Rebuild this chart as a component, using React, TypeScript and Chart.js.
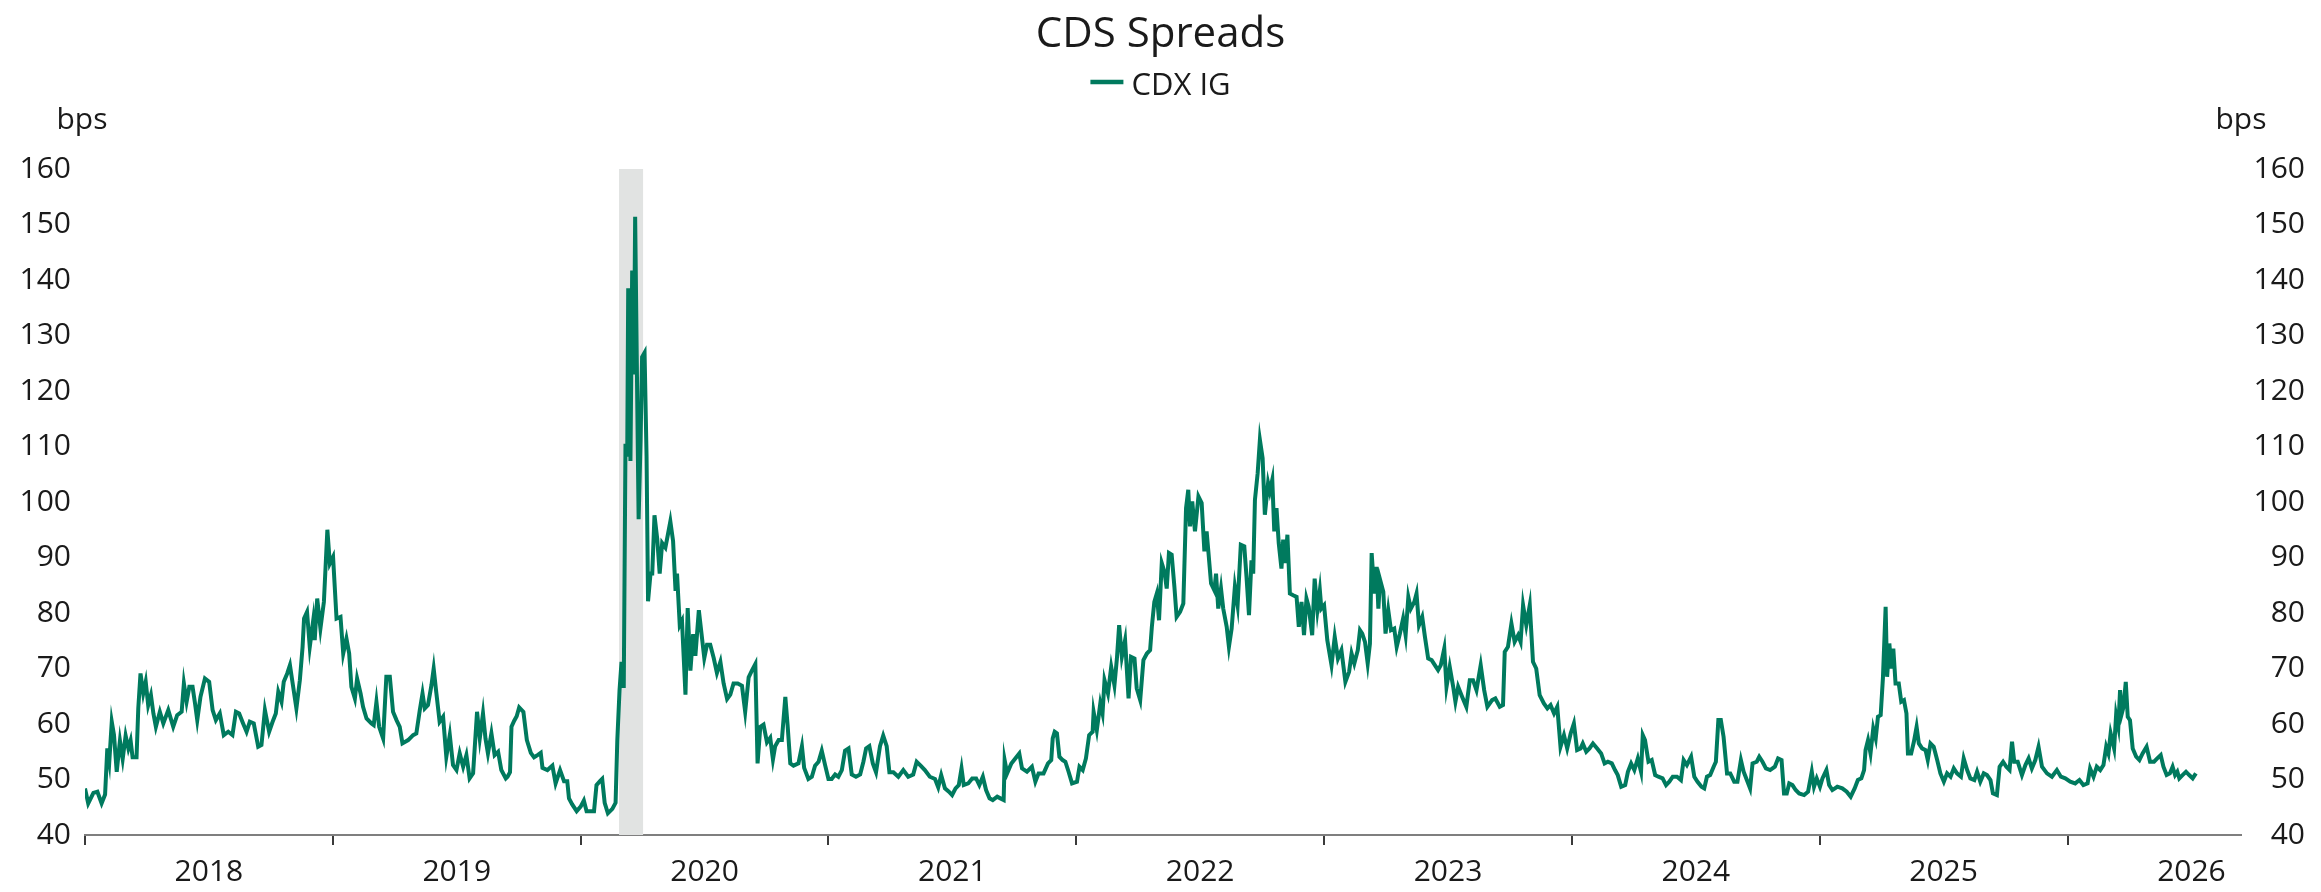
import { useEffect, useRef } from 'react';
import { Chart, registerables } from 'chart.js';

Chart.register(...registerables);

// Observation dates as decimal years, and CDX IG spread (bps) on each date.
const obsYear = [
  2018.000, 2018.013, 2018.034, 2018.050, 2018.067, 2018.081, 2018.090, 2018.098, 2018.108, 2018.117, 2018.128, 2018.141, 2018.152, 2018.164, 2018.175, 2018.184, 2018.192, 2018.208, 2018.215, 2018.224, 2018.235, 2018.245, 2018.255, 2018.266, 2018.276, 2018.286, 2018.302, 2018.316, 2018.336, 2018.356, 2018.372, 2018.390, 2018.399, 2018.410, 2018.421, 2018.434, 2018.444, 2018.453, 2018.466, 2018.484, 2018.501, 2018.515, 2018.528, 2018.544, 2018.560, 2018.578, 2018.595, 2018.609, 2018.622, 2018.638, 2018.652, 2018.665, 2018.681, 2018.699, 2018.712, 2018.726, 2018.743, 2018.757, 2018.770, 2018.780, 2018.793, 2018.802, 2018.816, 2018.827, 2018.840, 2018.853, 2018.867, 2018.878, 2018.884, 2018.896, 2018.907, 2018.921, 2018.927, 2018.937, 2018.950, 2018.964, 2018.978, 2018.988,
  2019.001, 2019.015, 2019.031, 2019.042, 2019.055, 2019.066, 2019.075, 2019.089, 2019.098, 2019.112, 2019.122, 2019.136, 2019.156, 2019.165, 2019.176, 2019.187, 2019.203, 2019.216, 2019.230, 2019.243, 2019.257, 2019.270, 2019.281, 2019.304, 2019.324, 2019.337, 2019.351, 2019.362, 2019.371, 2019.384, 2019.398, 2019.407, 2019.418, 2019.431, 2019.445, 2019.458, 2019.472, 2019.485, 2019.499, 2019.512, 2019.526, 2019.539, 2019.552, 2019.566, 2019.582, 2019.593, 2019.606, 2019.616, 2019.626, 2019.640, 2019.653, 2019.667, 2019.680, 2019.698, 2019.705, 2019.715, 2019.721, 2019.732, 2019.742, 2019.752, 2019.769, 2019.783, 2019.799, 2019.812, 2019.826, 2019.839, 2019.846, 2019.866, 2019.886, 2019.899, 2019.917, 2019.933, 2019.946, 2019.953, 2019.966, 2019.984,
  2020.000, 2020.013, 2020.024, 2020.040, 2020.054, 2020.064, 2020.078, 2020.087, 2020.097, 2020.110, 2020.128, 2020.141, 2020.148, 2020.157, 2020.165, 2020.174, 2020.181, 2020.188, 2020.192, 2020.201, 2020.208, 2020.215, 2020.220, 2020.228, 2020.234, 2020.242, 2020.248, 2020.258, 2020.266, 2020.272, 2020.282, 2020.289, 2020.298, 2020.309, 2020.319, 2020.329, 2020.342, 2020.352, 2020.362, 2020.373, 2020.383, 2020.389, 2020.400, 2020.409, 2020.423, 2020.432, 2020.443, 2020.454, 2020.463, 2020.477, 2020.490, 2020.499, 2020.510, 2020.523, 2020.537, 2020.550, 2020.564, 2020.577, 2020.591, 2020.604, 2020.617, 2020.634, 2020.651, 2020.664, 2020.678, 2020.691, 2020.705, 2020.714, 2020.725, 2020.738, 2020.752, 2020.765, 2020.776, 2020.785, 2020.799, 2020.812, 2020.826, 2020.835, 2020.846, 2020.859, 2020.879, 2020.893, 2020.902, 2020.919, 2020.933, 2020.946, 2020.960, 2020.973, 2020.987,
  2021.000, 2021.013, 2021.027, 2021.040, 2021.054, 2021.067, 2021.081, 2021.094, 2021.111, 2021.128, 2021.141, 2021.152, 2021.165, 2021.179, 2021.192, 2021.208, 2021.221, 2021.235, 2021.246, 2021.262, 2021.282, 2021.302, 2021.322, 2021.342, 2021.356, 2021.372, 2021.389, 2021.409, 2021.430, 2021.443, 2021.455, 2021.470, 2021.486, 2021.499, 2021.513, 2021.526, 2021.537, 2021.546, 2021.564, 2021.580, 2021.596, 2021.609, 2021.623, 2021.636, 2021.650, 2021.663, 2021.681, 2021.694, 2021.707, 2021.711, 2021.721, 2021.738, 2021.754, 2021.770, 2021.781, 2021.801, 2021.821, 2021.835, 2021.848, 2021.868, 2021.886, 2021.899, 2021.905, 2021.913, 2021.922, 2021.932, 2021.945, 2021.956, 2021.969, 2021.983,
  2022.003, 2022.013, 2022.026, 2022.039, 2022.052, 2022.066, 2022.070, 2022.083, 2022.097, 2022.106, 2022.114, 2022.128, 2022.141, 2022.154, 2022.164, 2022.173, 2022.184, 2022.197, 2022.211, 2022.221, 2022.235, 2022.244, 2022.258, 2022.271, 2022.285, 2022.298, 2022.305, 2022.315, 2022.325, 2022.334, 2022.345, 2022.356, 2022.365, 2022.374, 2022.385, 2022.396, 2022.405, 2022.419, 2022.432, 2022.443, 2022.452, 2022.459, 2022.468, 2022.479, 2022.493, 2022.506, 2022.517, 2022.526, 2022.533, 2022.544, 2022.557, 2022.564, 2022.573, 2022.584, 2022.593, 2022.607, 2022.616, 2022.627, 2022.640, 2022.651, 2022.664, 2022.678, 2022.687, 2022.697, 2022.707, 2022.714, 2022.721, 2022.732, 2022.741, 2022.752, 2022.761, 2022.774, 2022.781, 2022.791, 2022.799, 2022.808, 2022.817, 2022.828, 2022.835, 2022.844, 2022.852, 2022.862, 2022.875, 2022.889, 2022.898, 2022.909, 2022.919, 2022.929, 2022.938, 2022.952, 2022.962, 2022.973, 2022.983, 2022.989,
  2023.000, 2023.013, 2023.030, 2023.043, 2023.056, 2023.070, 2023.086, 2023.101, 2023.111, 2023.122, 2023.136, 2023.145, 2023.154, 2023.165, 2023.176, 2023.185, 2023.192, 2023.203, 2023.212, 2023.219, 2023.226, 2023.239, 2023.248, 2023.259, 2023.270, 2023.283, 2023.293, 2023.306, 2023.319, 2023.329, 2023.340, 2023.350, 2023.364, 2023.373, 2023.383, 2023.396, 2023.407, 2023.420, 2023.434, 2023.447, 2023.460, 2023.471, 2023.485, 2023.494, 2023.507, 2023.521, 2023.530, 2023.541, 2023.557, 2023.574, 2023.588, 2023.601, 2023.615, 2023.632, 2023.646, 2023.659, 2023.678, 2023.691, 2023.709, 2023.722, 2023.729, 2023.742, 2023.756, 2023.769, 2023.783, 2023.793, 2023.803, 2023.816, 2023.830, 2023.843, 2023.856, 2023.870, 2023.887, 2023.901, 2023.914, 2023.928, 2023.941, 2023.954, 2023.968, 2023.981, 2023.995,
  2024.008, 2024.021, 2024.035, 2024.044, 2024.058, 2024.071, 2024.085, 2024.102, 2024.118, 2024.132, 2024.145, 2024.161, 2024.174, 2024.185, 2024.199, 2024.215, 2024.226, 2024.239, 2024.252, 2024.266, 2024.279, 2024.286, 2024.295, 2024.309, 2024.322, 2024.336, 2024.349, 2024.366, 2024.380, 2024.393, 2024.407, 2024.424, 2024.440, 2024.451, 2024.464, 2024.481, 2024.494, 2024.507, 2024.523, 2024.534, 2024.545, 2024.558, 2024.572, 2024.581, 2024.591, 2024.601, 2024.612, 2024.626, 2024.639, 2024.655, 2024.668, 2024.682, 2024.693, 2024.706, 2024.719, 2024.729, 2024.746, 2024.756, 2024.769, 2024.783, 2024.800, 2024.819, 2024.832, 2024.846, 2024.856, 2024.867, 2024.877, 2024.890, 2024.903, 2024.917, 2024.937, 2024.953, 2024.968, 2024.977, 2024.988,
  2025.001, 2025.011, 2025.027, 2025.038, 2025.051, 2025.071, 2025.091, 2025.109, 2025.125, 2025.141, 2025.154, 2025.168, 2025.179, 2025.185, 2025.195, 2025.205, 2025.216, 2025.226, 2025.235, 2025.246, 2025.255, 2025.266, 2025.272, 2025.281, 2025.289, 2025.297, 2025.306, 2025.319, 2025.329, 2025.340, 2025.350, 2025.356, 2025.369, 2025.380, 2025.391, 2025.400, 2025.413, 2025.427, 2025.436, 2025.447, 2025.460, 2025.474, 2025.487, 2025.501, 2025.514, 2025.528, 2025.541, 2025.554, 2025.570, 2025.581, 2025.595, 2025.608, 2025.624, 2025.635, 2025.648, 2025.662, 2025.675, 2025.689, 2025.699, 2025.715, 2025.726, 2025.740, 2025.753, 2025.766, 2025.776, 2025.785, 2025.799, 2025.816, 2025.830, 2025.843, 2025.856, 2025.870, 2025.883, 2025.897, 2025.917, 2025.937, 2025.957, 2025.973, 2025.991,
  2026.011, 2026.031, 2026.048, 2026.064, 2026.081, 2026.091, 2026.105, 2026.118, 2026.132, 2026.145, 2026.156, 2026.165, 2026.174, 2026.188, 2026.196, 2026.205, 2026.212, 2026.219, 2026.226, 2026.235, 2026.243, 2026.252, 2026.263, 2026.277, 2026.290, 2026.303, 2026.319, 2026.333, 2026.349, 2026.362, 2026.376, 2026.387, 2026.400, 2026.413, 2026.424, 2026.434, 2026.443, 2026.451, 2026.464, 2026.478, 2026.491, 2026.505, 2026.518,
];

const cdxIG = [
  48.4, 45.7, 47.6, 47.8, 45.7, 47.3, 55.6, 53.2, 60.4, 58.0, 51.4, 57.0, 53.7, 57.9, 55.6, 57.0, 54.0, 54.0, 62.8, 69.1, 65.5, 67.6, 63.4, 65.2, 61.9, 59.5, 62.2, 60.1, 62.5, 59.5, 61.6, 62.2, 67.3, 64.0, 66.7, 66.7, 63.7, 60.7, 64.9, 68.2, 67.6, 62.5, 60.7, 61.9, 58.0, 58.6, 58.0, 62.2, 61.9, 60.1, 58.6, 60.4, 60.1, 55.9, 56.2, 62.5, 58.6, 60.4, 61.9, 65.8, 64.0, 67.6, 69.1, 70.6, 66.7, 62.8, 67.9, 73.9, 79.0, 80.2, 73.9, 78.7, 75.1, 82.6, 77.2, 82.0, 95.0, 88.9,
  90.1, 79.0, 79.3, 72.7, 75.4, 72.7, 66.7, 64.6, 68.2, 65.5, 63.1, 61.0, 60.1, 59.8, 64.0, 59.5, 57.4, 68.5, 68.5, 62.2, 60.7, 59.5, 56.5, 57.1, 58.0, 58.3, 62.5, 65.5, 62.8, 63.4, 67.0, 70.0, 65.5, 60.4, 61.3, 54.1, 58.0, 52.6, 51.7, 54.7, 52.3, 54.4, 50.2, 51.1, 62.2, 57.4, 61.9, 57.4, 54.7, 58.3, 54.4, 55.0, 51.7, 50.2, 50.5, 51.3, 59.5, 60.6, 61.4, 63.0, 62.2, 57.1, 54.8, 54.0, 54.4, 54.8, 52.1, 51.7, 52.5, 49.3, 51.7, 49.7, 49.7, 46.6, 45.5, 44.3,
  45.1, 46.2, 44.3, 44.3, 44.3, 49.0, 49.7, 50.1, 45.8, 43.9, 44.7, 45.8, 57.1, 66.1, 71.2, 66.5, 110.5, 108.2, 138.5, 107.4, 141.7, 123.0, 151.4, 119.9, 96.9, 111.3, 126.1, 126.9, 108.2, 82.1, 87.1, 87.1, 97.6, 93.4, 87.1, 92.6, 91.8, 94.1, 96.5, 93.0, 84.0, 87.1, 77.8, 78.6, 65.3, 80.9, 69.6, 76.2, 72.3, 80.5, 75.4, 71.9, 74.3, 74.3, 71.9, 69.2, 71.2, 67.3, 64.5, 65.3, 67.3, 67.3, 66.9, 62.2, 68.4, 69.6, 70.8, 52.9, 59.5, 59.9, 56.7, 57.5, 53.6, 56.0, 57.1, 57.1, 64.9, 59.9, 52.9, 52.5, 52.9, 56.0, 52.1, 50.1, 50.5, 52.5, 53.2, 55.2, 52.5,
  50.1, 50.1, 50.9, 50.5, 51.7, 55.2, 55.6, 50.9, 50.5, 50.9, 53.2, 55.6, 56.0, 52.9, 51.3, 56.0, 57.9, 56.0, 51.3, 51.3, 50.5, 51.7, 50.5, 50.9, 53.2, 52.5, 51.7, 50.5, 50.1, 48.6, 50.8, 48.4, 47.8, 47.2, 48.4, 49.0, 52.0, 49.0, 49.3, 50.2, 50.2, 49.0, 50.5, 48.1, 46.6, 46.3, 46.9, 46.6, 46.3, 53.5, 51.1, 52.9, 53.8, 54.7, 52.0, 51.4, 52.3, 49.6, 51.1, 51.1, 52.9, 53.5, 57.4, 58.6, 58.3, 54.1, 53.5, 53.2, 51.4, 49.3,
  49.6, 52.3, 51.7, 53.8, 58.0, 58.6, 62.2, 58.9, 63.7, 61.9, 67.9, 65.5, 70.3, 67.0, 71.8, 77.8, 72.1, 75.1, 64.6, 72.1, 71.8, 66.4, 64.3, 71.5, 72.7, 73.3, 77.5, 82.0, 83.5, 78.7, 89.0, 87.4, 84.4, 90.8, 90.5, 84.7, 79.3, 80.2, 81.7, 98.9, 102.2, 95.6, 100.1, 94.7, 101.0, 99.8, 91.1, 94.7, 91.1, 85.3, 84.1, 87.1, 80.8, 84.4, 80.8, 77.5, 73.9, 77.2, 84.7, 81.4, 92.3, 92.0, 86.5, 79.6, 89.5, 87.1, 100.4, 105.2, 111.2, 107.9, 97.7, 103.4, 101.9, 104.0, 94.7, 98.9, 92.6, 88.0, 93.2, 89.0, 94.1, 83.5, 83.2, 82.9, 77.5, 82.0, 76.0, 82.6, 81.1, 76.0, 86.2, 80.5, 84.1, 80.8,
  81.4, 75.1, 70.6, 75.7, 71.8, 73.3, 67.6, 69.4, 72.7, 70.9, 73.3, 76.9, 76.3, 74.8, 70.9, 74.5, 90.8, 83.5, 88.3, 80.8, 86.0, 83.8, 76.3, 80.5, 76.9, 77.2, 73.9, 76.3, 79.0, 76.0, 82.9, 80.8, 82.0, 83.5, 77.8, 79.3, 75.7, 71.8, 71.5, 70.6, 69.7, 70.6, 73.6, 66.7, 70.3, 66.7, 64.0, 66.7, 64.9, 63.1, 67.9, 67.9, 66.1, 70.6, 66.1, 63.1, 64.3, 64.6, 63.1, 63.4, 73.0, 73.9, 78.1, 74.8, 76.0, 74.8, 81.4, 77.8, 81.4, 71.2, 70.0, 65.2, 63.7, 62.8, 63.4, 61.9, 63.1, 55.9, 58.0, 55.6, 58.3,
  60.1, 55.3, 55.6, 56.5, 55.0, 55.6, 56.5, 55.6, 54.7, 52.9, 53.2, 52.9, 51.7, 50.8, 48.7, 49.0, 51.4, 52.9, 51.7, 53.8, 51.4, 58.0, 57.1, 53.2, 53.5, 50.8, 50.5, 50.2, 49.0, 49.6, 50.5, 50.5, 49.9, 53.5, 52.6, 54.1, 50.5, 49.6, 48.7, 48.4, 50.5, 50.8, 52.3, 53.2, 60.7, 60.7, 57.7, 51.1, 51.1, 49.6, 49.6, 53.5, 51.4, 49.9, 48.4, 52.9, 53.2, 54.1, 53.2, 52.0, 51.7, 52.3, 53.8, 53.5, 47.5, 47.5, 49.3, 49.0, 48.1, 47.5, 47.2, 47.8, 51.4, 48.7, 50.2,
  48.7, 50.2, 51.7, 49.0, 48.1, 48.7, 48.4, 47.8, 46.9, 48.4, 49.9, 50.2, 51.7, 55.3, 57.1, 54.7, 59.2, 57.4, 61.3, 61.6, 68.2, 81.1, 68.5, 74.5, 70.0, 73.6, 67.3, 67.3, 64.0, 64.3, 61.9, 54.7, 54.7, 56.8, 59.5, 56.5, 55.6, 55.3, 53.5, 56.5, 55.9, 53.5, 51.1, 49.6, 51.1, 50.5, 52.0, 51.1, 50.5, 53.8, 51.7, 50.2, 49.9, 51.4, 49.6, 51.1, 50.8, 49.9, 47.5, 47.2, 52.3, 53.2, 52.3, 51.7, 56.8, 53.2, 53.2, 50.8, 52.6, 53.8, 52.0, 53.5, 55.9, 52.3, 51.1, 50.5, 51.7, 50.5, 50.2,
  49.6, 49.3, 49.9, 49.0, 49.3, 52.0, 50.5, 52.3, 51.7, 52.6, 55.9, 54.7, 58.3, 55.6, 61.6, 59.5, 66.1, 61.9, 63.1, 67.6, 61.3, 60.7, 55.6, 54.1, 53.5, 54.7, 55.9, 53.2, 53.2, 53.8, 54.4, 52.3, 50.8, 51.1, 52.3, 50.8, 51.4, 50.2, 50.8, 51.4, 50.8, 50.2, 51.1,
];

// Axis ranges and labels
const xMin = 2018;
const xMax = 2026.7;
const yearTicks = [2018, 2019, 2020, 2021, 2022, 2023, 2024, 2025, 2026];
const yMin = 40;
const yMax = 160;
const yStep = 10;

// Shaded stress window (decimal years)
const shadeStart = 2020.155;
const shadeEnd = 2020.252;

const SERIES_COLOR = '#007A5E';
const TEXT_COLOR = '#1A1A1A';
const FONT_FAMILY = '"Open Sans", "Noto Sans", sans-serif';

const decorPlugin = {
  id: 'decor',
  beforeDatasetsDraw(chart: any) {
    const { ctx, chartArea, scales } = chart;
    const x0 = scales.x.getPixelForValue(shadeStart);
    const x1 = scales.x.getPixelForValue(shadeEnd);
    ctx.save();
    ctx.fillStyle = '#E1E3E2';
    ctx.fillRect(x0, chartArea.top, x1 - x0, chartArea.bottom - chartArea.top);
    ctx.restore();
  },
  afterDraw(chart: any) {
    const { ctx, chartArea, width } = chart;
    ctx.save();
    ctx.fillStyle = TEXT_COLOR;

    // Title
    ctx.font = `42px ${FONT_FAMILY}`;
    ctx.textAlign = 'center';
    ctx.textBaseline = 'alphabetic';
    ctx.fillText('CDS Spreads', width / 2, 47);

    // Legend
    ctx.font = `31px ${FONT_FAMILY}`;
    const label = 'CDX IG';
    const tw = ctx.measureText(label).width;
    const lineLen = 33;
    const gap = 8;
    const start = width / 2 - (lineLen + gap + tw) / 2;
    ctx.strokeStyle = SERIES_COLOR;
    ctx.lineWidth = 4.5;
    ctx.beginPath();
    ctx.moveTo(start, 82);
    ctx.lineTo(start + lineLen, 82);
    ctx.stroke();
    ctx.textAlign = 'left';
    ctx.fillText(label, start + lineLen + gap, 95);

    // Unit labels above both value axes
    ctx.font = `30px ${FONT_FAMILY}`;
    ctx.textAlign = 'center';
    ctx.fillText('bps', chartArea.left - 3, 129);
    ctx.fillText('bps', chartArea.right, 129);
    ctx.restore();
  },
};

function valueTicks() {
  const out: { value: number }[] = [];
  for (let v = yMin; v <= yMax; v += yStep) out.push({ value: v });
  return out;
}

export default function App() {
  const canvasRef = useRef<HTMLCanvasElement | null>(null);

  useEffect(() => {
    document.body.style.margin = '0';
    document.body.style.overflow = 'hidden';
    let chart: Chart | null = null;
    let cancelled = false;

    const build = () => {
      if (cancelled || !canvasRef.current) return;
      const tickFont = { family: FONT_FAMILY, size: 30 };
      chart = new Chart(canvasRef.current, {
        type: 'line',
        data: {
          datasets: [
            {
              label: 'CDX IG',
              data: obsYear.map((x, i) => ({ x, y: cdxIG[i] })),
              borderColor: SERIES_COLOR,
              backgroundColor: SERIES_COLOR,
              borderWidth: 4,
              pointRadius: 0,
              tension: 0,
              fill: false,
              yAxisID: 'y',
              xAxisID: 'x',
            },
          ],
        },
        options: {
          animation: false,
          responsive: true,
          maintainAspectRatio: false,
          devicePixelRatio: 1,
          layout: { padding: { top: 169, right: 16, bottom: 0, left: 0 } },
          plugins: {
            legend: { display: false },
            title: { display: false },
            tooltip: { enabled: false },
          },
          scales: {
            x: {
              type: 'linear',
              position: 'bottom',
              min: xMin,
              max: xMax,
              afterBuildTicks: (scale: any) => {
                const t: { value: number }[] = [];
                yearTicks.forEach((y) => {
                  t.push({ value: y });
                  if (y + 0.5 <= xMax) t.push({ value: y + 0.5 });
                });
                scale.ticks = t;
              },
              afterFit: (scale: any) => {
                scale.height = 57;
              },
              grid: {
                display: true,
                drawOnChartArea: false,
                drawTicks: true,
                tickLength: 10,
                lineWidth: 2,
                tickColor: (ctx: any) =>
                  ctx.tick && Number.isInteger(ctx.tick.value) ? '#3A3A3A' : 'rgba(0,0,0,0)',
              },
              border: { display: true, color: '#7F7F7F', width: 2 },
              ticks: {
                autoSkip: false,
                maxRotation: 0,
                minRotation: 0,
                padding: 9,
                color: TEXT_COLOR,
                font: tickFont,
                callback: (v: any) => (Number.isInteger(v) ? '' : String(Math.floor(v))),
              },
            },
            y: {
              type: 'linear',
              position: 'left',
              min: yMin,
              max: yMax,
              afterBuildTicks: (scale: any) => {
                scale.ticks = valueTicks();
              },
              afterFit: (scale: any) => {
                scale.width = 85;
              },
              grid: { display: false, drawTicks: false },
              border: { display: false },
              ticks: { padding: 14, crossAlign: 'near', color: TEXT_COLOR, font: tickFont },
            },
            y2: {
              type: 'linear',
              position: 'right',
              min: yMin,
              max: yMax,
              afterBuildTicks: (scale: any) => {
                scale.ticks = valueTicks();
              },
              afterFit: (scale: any) => {
                scale.width = 64;
              },
              grid: { display: false, drawTicks: false },
              border: { display: false },
              ticks: { crossAlign: 'far', color: TEXT_COLOR, font: tickFont },
            },
          },
        },
        plugins: [decorPlugin],
      });
    };

    const fonts = (document as any).fonts;
    if (fonts && fonts.load) {
      Promise.all([
        fonts.load(`30px "Open Sans"`),
        fonts.load(`42px "Open Sans"`),
      ])
        .catch(() => undefined)
        .then(build);
    } else {
      build();
    }

    return () => {
      cancelled = true;
      if (chart) chart.destroy();
    };
  }, []);

  return (
    <div style={{ position: 'relative', width: '2321px', height: '892px', background: '#FFFFFF' }}>
      <canvas ref={canvasRef} />
    </div>
  );
}
